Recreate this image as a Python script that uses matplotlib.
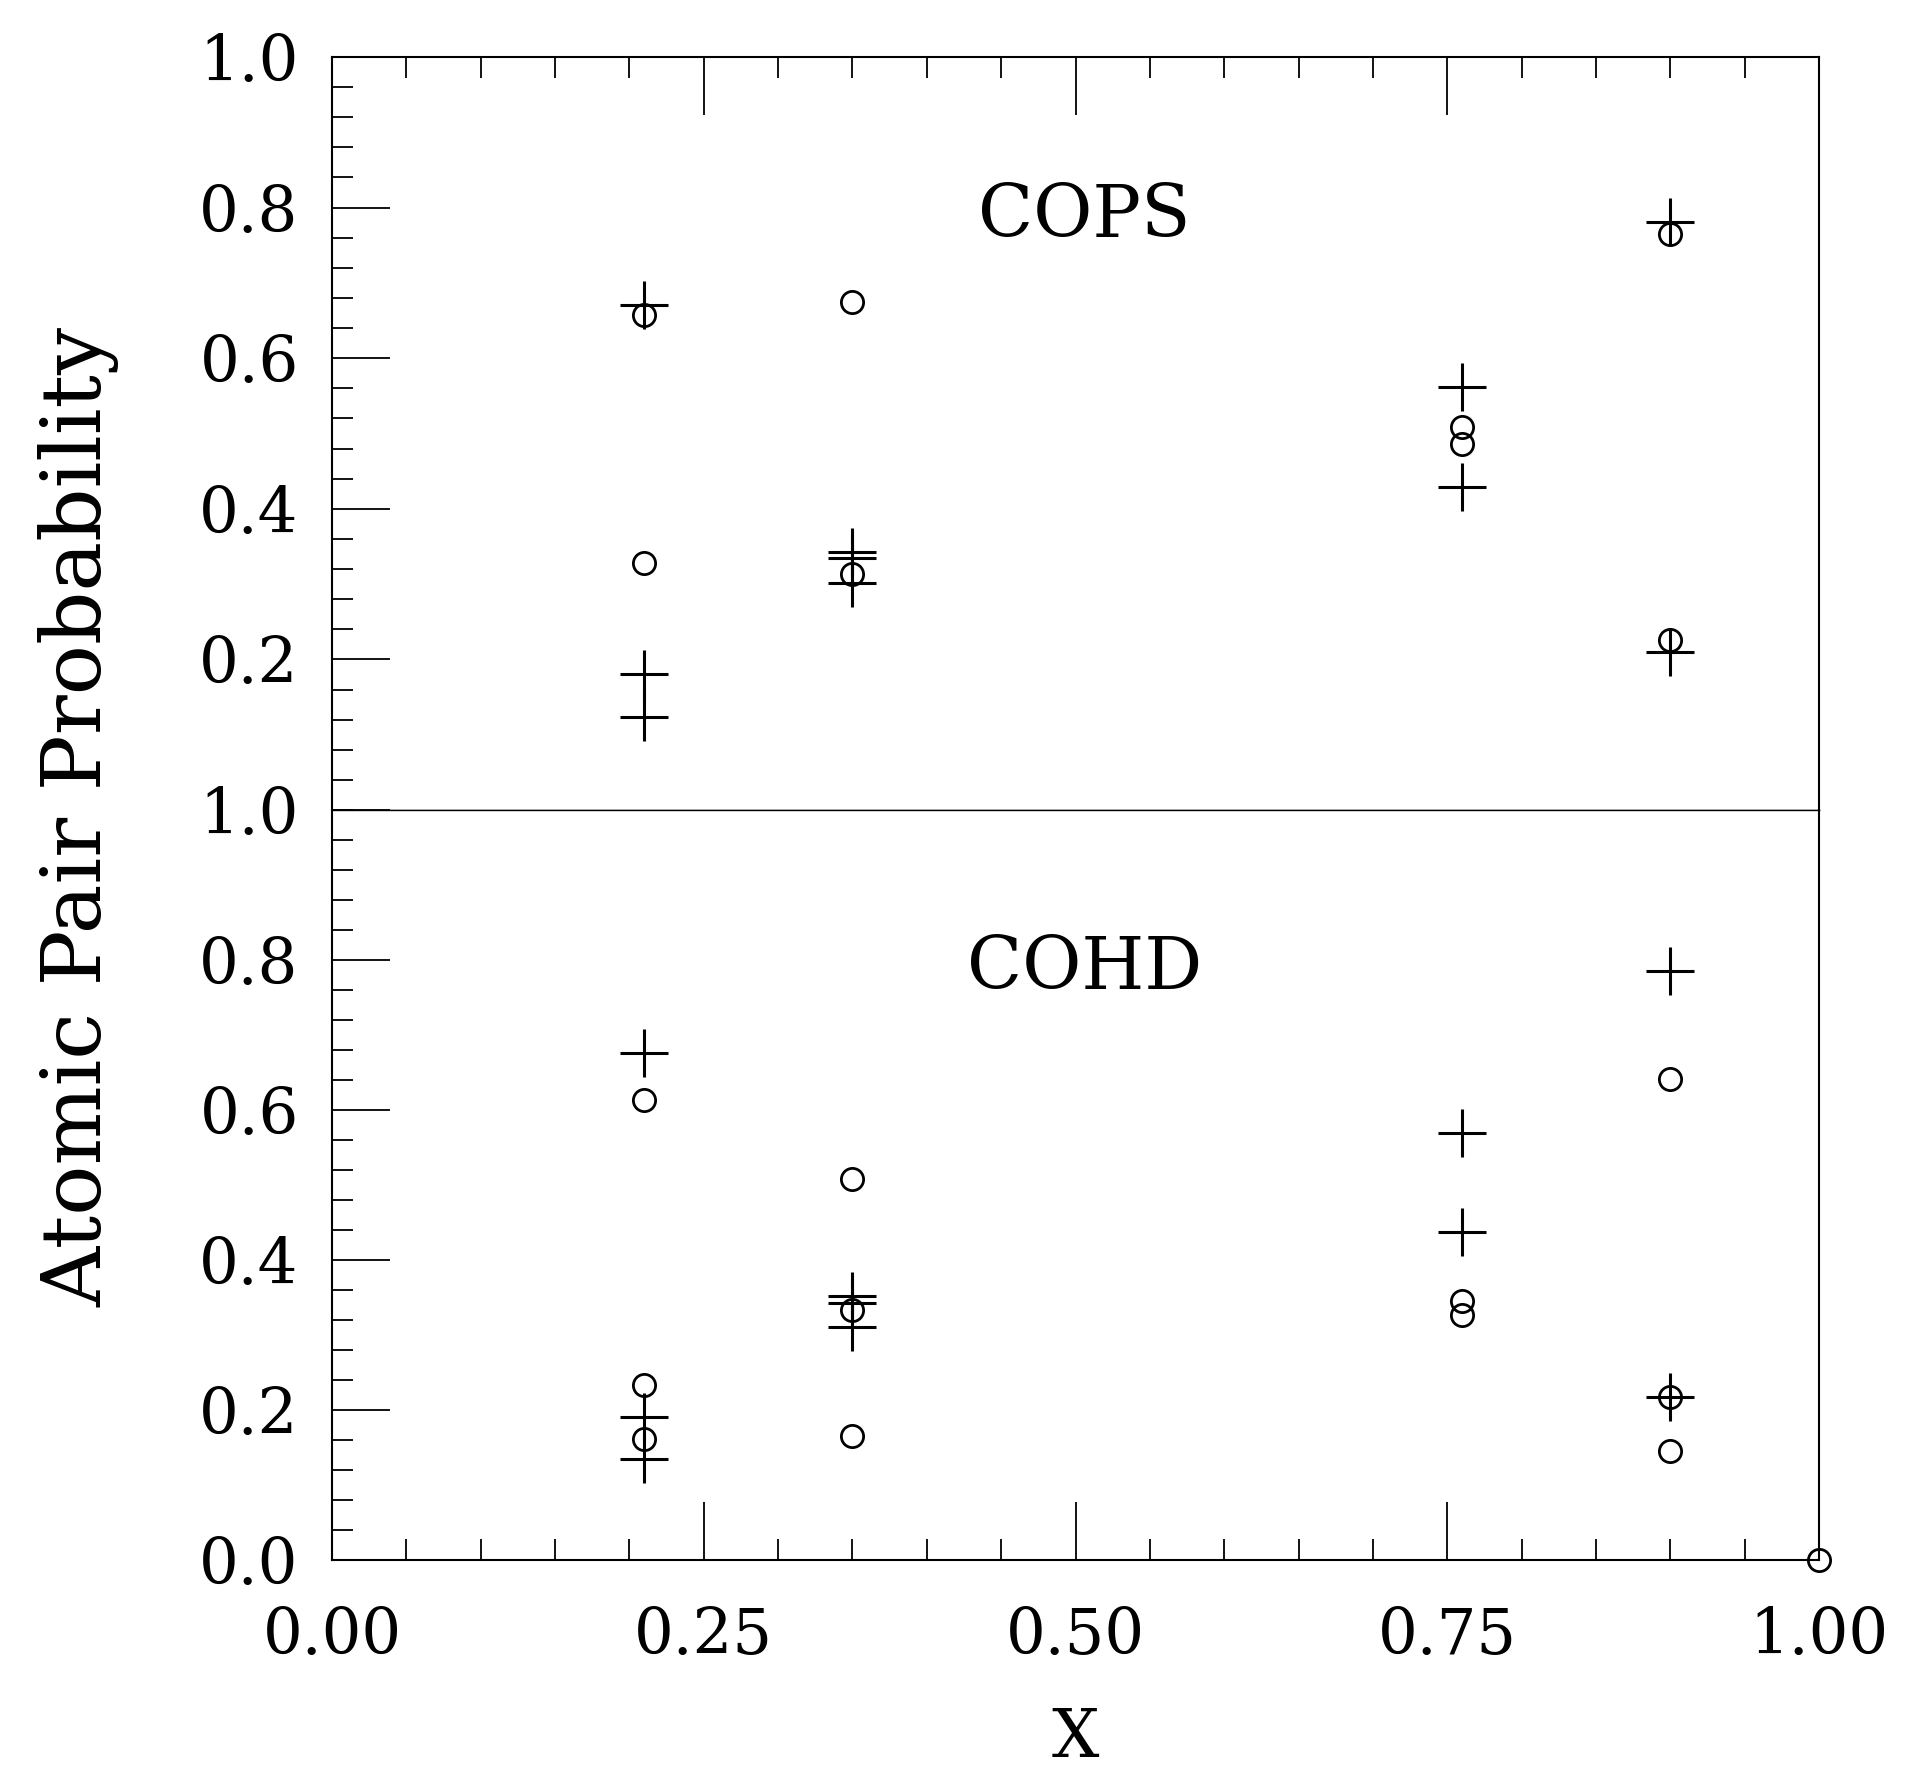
import numpy as np
import matplotlib
matplotlib.use('Agg')
import matplotlib.pyplot as plt
from matplotlib.ticker import MultipleLocator

# data: x = mole fraction, y = atomic pair probability
cops_plus_x = [0.21, 0.21, 0.21, 0.35, 0.35, 0.35, 0.76, 0.76, 0.90, 0.90]
cops_plus_y = [0.670, 0.180, 0.124, 0.343, 0.334, 0.302, 0.562, 0.429, 0.781, 0.210]
cops_circ_x = [0.21, 0.21, 0.35, 0.35, 0.76, 0.76, 0.90, 0.90]
cops_circ_y = [0.657, 0.328, 0.674, 0.314, 0.509, 0.486, 0.765, 0.226]

cohd_plus_x = [0.21, 0.21, 0.21, 0.35, 0.35, 0.35, 0.76, 0.76, 0.90, 0.90]
cohd_plus_y = [0.676, 0.191, 0.135, 0.352, 0.343, 0.311, 0.569, 0.437, 0.785, 0.218]
cohd_circ_x = [0.21, 0.21, 0.21, 0.35, 0.35, 0.35, 0.76, 0.76, 0.90, 0.90, 0.90, 1.00]
cohd_circ_y = [0.613, 0.233, 0.162, 0.508, 0.333, 0.165, 0.346, 0.327, 0.642, 0.217, 0.146, 0.0]

x_ticks = [0.0, 0.25, 0.5, 0.75, 1.0]
x_ticklabels = ['0.00', '0.25', '0.50', '0.75', '1.00']
y_ticks = [0.0, 0.2, 0.4, 0.6, 0.8, 1.0]

plt.rcParams['font.family'] = ['DejaVu Serif']

W, H = 1905, 1775
fig = plt.figure(figsize=(W / 100, H / 100), dpi=100)

left, right = 332 / W, 1819 / W
top, mid, bot = 1 - 57 / H, 1 - 810 / H, 1 - 1560 / H
ax_top = fig.add_axes([left, mid, right - left, top - mid])
ax_bot = fig.add_axes([left, bot, right - left, mid - bot])

panels = [
    (ax_top, cops_plus_x, cops_plus_y, cops_circ_x, cops_circ_y, 'COPS'),
    (ax_bot, cohd_plus_x, cohd_plus_y, cohd_circ_x, cohd_circ_y, 'COHD'),
]

for ax, px, py, cx, cy, name in panels:
    ax.plot(cx, cy, 'o', ms=16, mfc='none', mec='black', mew=2.0, clip_on=False)
    ax.plot(px, py, '+', ms=35, mec='black', mew=2.2, clip_on=False)
    ax.set_xlim(0, 1)
    ax.set_ylim(0, 1)
    ax.text(0.506, 0.788, name, fontsize=52, ha='center', va='center')

    ax.yaxis.set_major_locator(MultipleLocator(0.2))
    ax.yaxis.set_minor_locator(MultipleLocator(0.04))
    ax.xaxis.set_major_locator(MultipleLocator(0.25))
    ax.xaxis.set_minor_locator(MultipleLocator(0.05))
    ax.tick_params(axis='y', which='major', direction='in', length=42, width=1.3,
                   labelsize=45, pad=24, right=False)
    ax.tick_params(axis='y', which='minor', direction='in', length=15, width=1.3, right=False)
    ax.tick_params(axis='x', which='major', direction='in', length=42, width=1.3,
                   labelsize=45, pad=33)
    ax.tick_params(axis='x', which='minor', direction='in', length=15, width=1.3)
    for sp in ax.spines.values():
        sp.set_linewidth(1.5)

# top panel: ticks on top edge only, no x labels, no 0.0 label
ax_top.tick_params(axis='x', which='both', top=True, bottom=False, labelbottom=False)
ax_top.set_yticks(y_ticks[1:])
ax_top.set_yticklabels([f'{v:.1f}' for v in y_ticks[1:]])
ax_top.spines['bottom'].set_linewidth(1.0)

# bottom panel: ticks on bottom edge only
ax_bot.tick_params(axis='x', which='both', top=False, bottom=True)
ax_bot.set_xticks(x_ticks)
ax_bot.set_xticklabels(x_ticklabels)
ax_bot.set_yticks(y_ticks)
ax_bot.set_yticklabels([f'{v:.1f}' for v in y_ticks])
ax_bot.spines['top'].set_linewidth(1.0)

fig.text(79 / W, 0.54, 'Atomic Pair Probability', rotation=90, fontsize=60,
         ha='center', va='center')
fig.text((332 + 0.5 * 1487) / W, 4 / H, 'X', fontsize=48, ha='center', va='bottom')

fig.savefig('out.png', dpi=100)
